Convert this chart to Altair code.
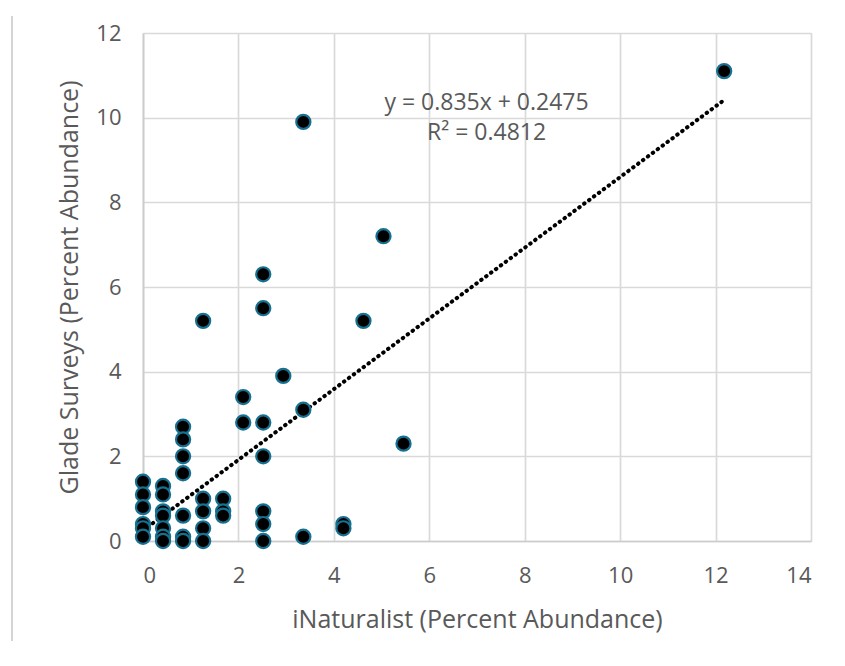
import altair as alt
import pandas as pd

# iNaturalist (x) and Glade Surveys (y) percent abundance
inat = (
    [0.0] * 6
    + [0.42] * 7
    + [0.84] * 7
    + [1.26] * 5
    + [1.68] * 3
    + [2.1] * 2
    + [2.52] * 7
    + [2.94]
    + [3.36] * 3
    + [4.2] * 2
    + [4.62, 5.04, 5.46, 12.18]
)
glade = (
    [1.4, 1.1, 0.8, 0.4, 0.3, 0.1]
    + [1.3, 1.1, 0.7, 0.6, 0.3, 0.1, 0.0]
    + [2.7, 2.4, 2.0, 1.6, 0.6, 0.1, 0.0]
    + [5.2, 1.0, 0.7, 0.3, 0.0]
    + [1.0, 0.7, 0.6]
    + [3.4, 2.8]
    + [6.3, 5.5, 2.8, 2.0, 0.7, 0.4, 0.0]
    + [3.9]
    + [9.9, 3.1, 0.1]
    + [0.4, 0.3]
    + [5.2, 7.2, 2.3, 11.1]
)

# trendline as printed on the chart
slope = 0.835
intercept = 0.2475
r2 = 0.4812
eq_lines = [f"y = {slope}x + {intercept}", f"R\u00b2 = {r2}"]
eq_x = [7.2, 7.2]
eq_y = [10.18, 9.47]

x_ticks = list(range(0, 15, 2))
y_ticks = list(range(0, 13, 2))

FONT = "Open Sans"
GREY = "#595959"

pts = pd.DataFrame({"x": inat, "y": glade})
trend = pd.DataFrame({"x": [min(inat), max(inat)]})
eq = pd.DataFrame({"x": eq_x, "y": eq_y, "t": eq_lines})

xs = alt.Scale(domain=[0, 14], nice=False, zero=True)
ys = alt.Scale(domain=[0, 12], nice=False, zero=True)

xaxis = alt.Axis(
    values=x_ticks, title="iNaturalist (Percent Abundance)", ticks=False,
    grid=True, gridColor="#d9d9d9", gridWidth=1.7,
    domainColor="#cccccc", domainWidth=1.7,
    labelFont=FONT, labelFontSize=22, labelColor=GREY, labelPadding=24,
    titleFont=FONT, titleFontSize=25, titleColor=GREY, titleFontWeight="normal",
    titlePadding=21,
)
yaxis = alt.Axis(
    values=y_ticks, title="Glade Surveys (Percent Abundance)", ticks=False,
    grid=True, gridColor="#d9d9d9", gridWidth=1.7,
    domainColor="#cccccc", domainWidth=1.7,
    labelFont=FONT, labelFontSize=22, labelColor=GREY, labelPadding=22,
    titleFont=FONT, titleFontSize=25, titleColor=GREY, titleFontWeight="normal",
    titlePadding=13,
)

points = alt.Chart(pts).mark_circle(
    size=200, fill="#000000", stroke="#17708f", strokeWidth=2.2, opacity=1
).encode(
    x=alt.X("x:Q", scale=xs, axis=xaxis),
    y=alt.Y("y:Q", scale=ys, axis=yaxis),
)

line = alt.Chart(trend).transform_calculate(
    y=f"{slope} * datum.x + {intercept}"
).mark_line(
    color="#000000", strokeWidth=4, strokeDash=[0.5, 5.6], strokeCap="round"
).encode(x=alt.X("x:Q", scale=xs), y=alt.Y("y:Q", scale=ys))

label = alt.Chart(eq).mark_text(
    font=FONT, fontSize=23, color=GREY, align="center", baseline="alphabetic"
).encode(x=alt.X("x:Q", scale=xs), y=alt.Y("y:Q", scale=ys), text="t:N")

border = alt.Chart(pd.DataFrame({"a": [0]})).mark_rule(
    color="#d4d4d4", strokeWidth=2
).encode(x=alt.value(-131), y=alt.value(-17), y2=alt.value(633))

chart = alt.layer(border, line, points, label).properties(
    width=668, height=508,
    autosize=alt.AutoSizeParams(type="none"),
    padding={"left": 135, "top": 25, "right": 20, "bottom": 100},
).configure_view(stroke=None).configure(background="white")

chart.save("out.html", embed_options={"renderer": "svg", "actions": False})
